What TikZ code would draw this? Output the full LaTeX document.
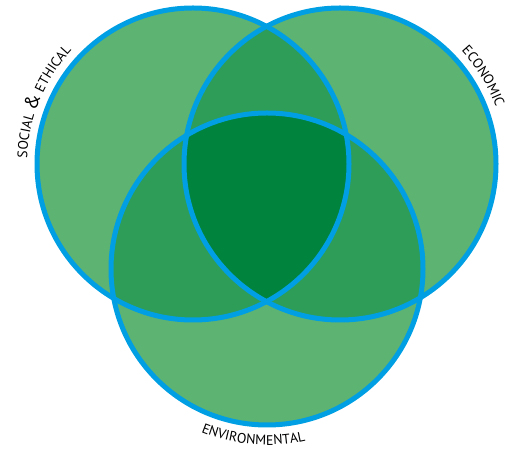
\documentclass[tikz,border=0pt]{standalone}
\usepackage{fontspec}
\setmainfont{PT Sans}
\usetikzlibrary{decorations.text}
\definecolor{vlight}{HTML}{5DB371}
\definecolor{vmid}{HTML}{2E9D57}
\definecolor{vdark}{HTML}{00843D}
\definecolor{vrim}{HTML}{009FE3}
\newcommand\lbl{\fontsize{10.4}{12}\selectfont}
\newcommand\biglbl{\fontsize{14.5}{15}\selectfont}
\tikzset{
  rim/.style={draw=vrim,line width=3.75pt},
  arclabel/.style={decorate,decoration={text along path,text align=left,text={#1}}}
}
\begin{document}
\begin{tikzpicture}[x=.75pt,y=.75pt]
\path[use as bounding box] (0,0) rectangle (514,449);
\coordinate (cL) at (193,285);
\coordinate (cR) at (340,285);
\coordinate (cB) at (267,180);

\fill[vlight] (cL) circle[radius=156];
\fill[vlight] (cR) circle[radius=156];
\fill[vlight] (cB) circle[radius=156];
\begin{scope}
\clip (cL) circle[radius=156];
\fill[vmid] (cR) circle[radius=156];
\fill[vmid] (cB) circle[radius=156];
\end{scope}
\begin{scope}
\clip (cR) circle[radius=156];
\fill[vmid] (cB) circle[radius=156];
\end{scope}
\begin{scope}
\clip (cL) circle[radius=156];
\clip (cR) circle[radius=156];
\fill[vdark] (cB) circle[radius=156];
\end{scope}
\draw[rim] (cL) circle[radius=156];
\draw[rim] (cR) circle[radius=156];
\draw[rim] (cB) circle[radius=156];

\path[arclabel={|\lbl|SOCIAL |\biglbl|{\&}|\lbl| ETHICAL}]
  ([shift={(178:166)}]cL) arc[start angle=178,end angle=110,radius=166];
\path[arclabel={|\lbl|ECONOMIC}]
  ([shift={(43:166)}]cR) arc[start angle=43,end angle=0,radius=166];
\path[arclabel={|\lbl|ENVIRONMENTAL}]
  ([shift={(-112:176)}]cB) arc[start angle=-112,end angle=-60,radius=176];
\end{tikzpicture}
\end{document}
